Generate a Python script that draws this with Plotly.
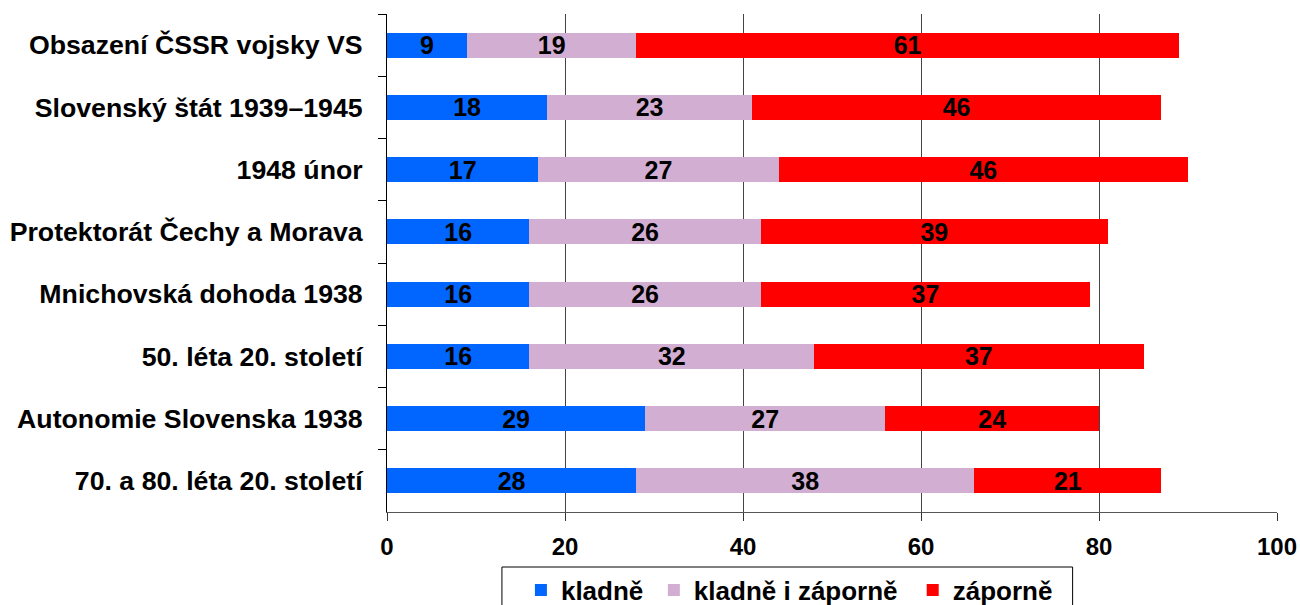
import plotly.graph_objects as go

categories = [
    "Obsazení ČSSR vojsky VS",
    "Slovenský štát 1939–1945",
    "1948 únor",
    "Protektorát Čechy a Morava",
    "Mnichovská dohoda 1938",
    "50. léta 20. století",
    "Autonomie Slovenska 1938",
    "70. a 80. léta 20. století",
]
kladne = [9, 18, 17, 16, 16, 16, 29, 28]
kladne_i_zaporne = [19, 23, 27, 26, 26, 32, 27, 38]
zaporne = [61, 46, 46, 39, 37, 37, 24, 21]
series_names = ["kladně", "kladně i záporně", "záporně"]
x_ticks = [0, 20, 40, 60, 80, 100]

colors = ["#0066FF", "#D2AFD2", "#FF0000"]
FONT = "Liberation Sans, Arial, sans-serif"

# plot area in page pixels
PL, PR, PT, PB = 387.0, 1277.5, 14.0, 512.0
W, H = 1300, 605


def px(x):
    return (x - PL) / (PR - PL)


def py(y):
    return (PB - y) / (PB - PT)


legend_ids = ["legend", "legend2", "legend3"]
legend_lefts = [521, 654, 913]

fig = go.Figure()
for name, vals, col, lid in zip(series_names, [kladne, kladne_i_zaporne, zaporne], colors, legend_ids):
    fig.add_trace(go.Bar(
        y=categories, x=vals, name=name, orientation="h",
        marker=dict(color=col, line=dict(width=0)),
        text=vals, textposition="inside", insidetextanchor="middle",
        textangle=0, constraintext="none",
        textfont=dict(family=FONT, size=25, color="black", weight="bold"),
        legend=lid,
    ))

legend_common = dict(
    orientation="h", xanchor="left", yanchor="middle", y=py(590),
    bgcolor="rgba(0,0,0,0)", borderwidth=0,
    font=dict(family=FONT, size=26, color="black", weight="bold"),
    itemwidth=30,
)

fig.update_layout(
    barmode="stack",
    bargap=0.6,
    width=W, height=H,
    margin=dict(l=PL, r=W - PR, t=PT, b=H - PB, autoexpand=False),
    plot_bgcolor="white", paper_bgcolor="white",
    font=dict(family=FONT, size=24, color="black"),
    showlegend=True,
    legend=dict(x=px(legend_lefts[0]), **legend_common),
    legend2=dict(x=px(legend_lefts[1]), **legend_common),
    legend3=dict(x=px(legend_lefts[2]), **legend_common),
    xaxis=dict(
        range=[0, 100], tickvals=x_ticks, ticks="outside", ticklen=8,
        tickcolor="#333", showgrid=True, gridcolor="#444", gridwidth=1,
        showline=True, linecolor="#555", linewidth=1, mirror=False,
        zeroline=False, automargin=False, ticklabelstandoff=5,
        ticklabeloverflow="allow",
        tickfont=dict(family=FONT, size=24, color="black", weight="bold"),
    ),
    yaxis=dict(
        categoryorder="array", categoryarray=categories, autorange="reversed",
        ticks="outside", ticklen=8, tickcolor="black", tickson="boundaries",
        showline=True, linecolor="black", linewidth=1, showgrid=False,
        ticklabelstandoff=18, automargin=False,
        tickfont=dict(family=FONT, size=26.7, color="black", weight="bold"),
    ),
    shapes=[dict(
        type="rect", xref="paper", yref="paper",
        x0=px(502), x1=px(1073), y0=py(567), y1=py(625),
        line=dict(color="black", width=1), fillcolor="rgba(0,0,0,0)",
        layer="below",
    )],
)

fig.write_html(
    "out.html",
    config={"displayModeBar": False},
    post_script="document.body.style.margin='0';document.body.style.overflow='hidden';",
)
